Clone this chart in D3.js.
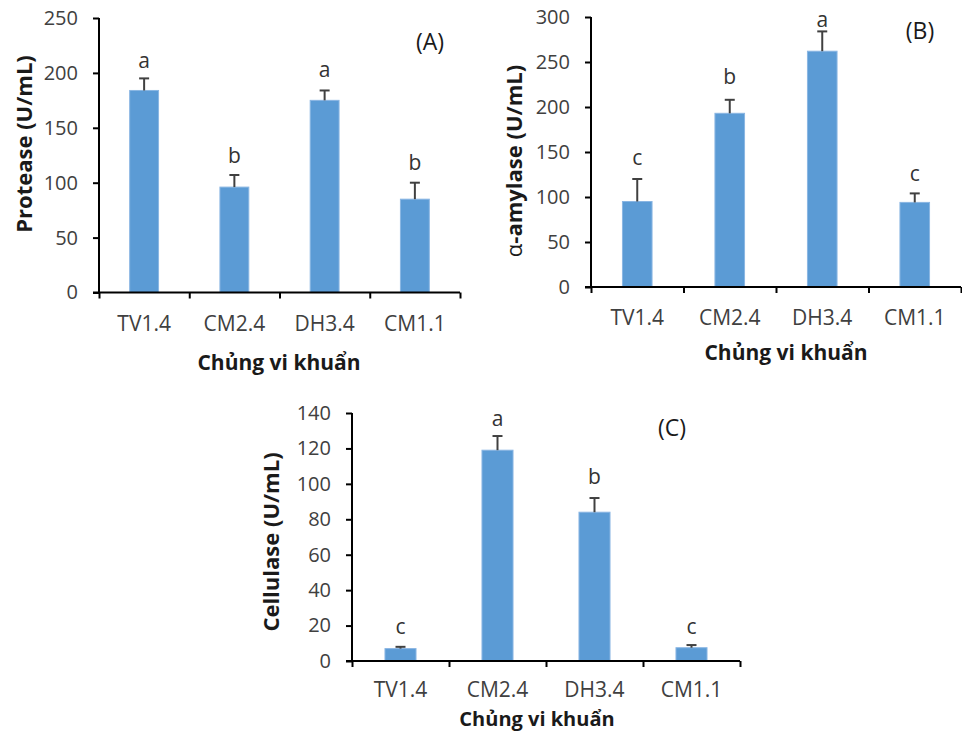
<!DOCTYPE html>
<html><head><meta charset="utf-8">
<script src="https://cdn.jsdelivr.net/npm/d3@7"></script>
<style>
body{margin:0;background:#fff;}
svg{display:block;}
text{font-family:"Open Sans","Noto Sans",sans-serif;}
</style></head>
<body>
<svg id="chart" width="962" height="732"></svg>
<script>
// ---- data ----
const categories = ["TV1.4", "CM2.4", "DH3.4", "CM1.1"];

const proteaseMean = [184, 96, 175, 85];
const proteaseErr = [11, 11, 9, 15];
const proteaseLetters = ["a", "b", "a", "b"];
const proteaseLetterY = [212, 125, 204, 119];
const proteaseTicks = [0, 50, 100, 150, 200, 250];

const amylaseMean = [95, 193, 262, 94];
const amylaseErr = [25, 15, 22, 10];
const amylaseLetters = ["c", "b", "a", "c"];
const amylaseLetterY = [144, 234, 298, 127];
const amylaseTicks = [0, 50, 100, 150, 200, 250, 300];

const cellulaseMean = [7, 119, 84, 7.5];
const cellulaseErr = [1, 8, 8, 1.5];
const cellulaseLetters = ["c", "a", "b", "c"];
const cellulaseLetterY = [19.5, 137, 104.5, 20];
const cellulaseTicks = [0, 20, 40, 60, 80, 100, 120, 140];

const xTitle = "Chủng vi khuẩn";

// ---- layout ----
const panels = [
  {mean: proteaseMean, err: proteaseErr, letters: proteaseLetters, letterY: proteaseLetterY, ticks: proteaseTicks,
   yTitle: [{t: "Protease (U/mL)", bold: true}], tag: "(A)", catOff: 30, xtSize: 21,
   x0: 99, x1: 460, yb: 292.5, yt: 18, tagX: 430, tagY: 41, ytX: 23, ytY: 144, xtX: 279, xtY: 362},
  {mean: amylaseMean, err: amylaseErr, letters: amylaseLetters, letterY: amylaseLetterY, ticks: amylaseTicks,
   yTitle: [{t: "α", bold: false}, {t: "-amylase (U/mL)", bold: true}], tag: "(B)", catOff: 30, xtSize: 21,
   x0: 591, x1: 961, yb: 287, yt: 17, tagX: 920, tagY: 30, ytX: 513, ytY: 161, xtX: 786, xtY: 352},
  {mean: cellulaseMean, err: cellulaseErr, letters: cellulaseLetters, letterY: cellulaseLetterY, ticks: cellulaseTicks,
   yTitle: [{t: "Cellulase (U/mL)", bold: true}], tag: "(C)", catOff: 28, xtSize: 20,
   x0: 352, x1: 740, yb: 661, yt: 413, tagX: 672, tagY: 427, ytX: 270, ytY: 542, xtX: 537, xtY: 718}
];

const svg = d3.select("#chart");
const barColor = "#5b9bd5";
const errColor = "#404040";
const labelColor = "#404040";

panels.forEach(p => {
  const g = svg.append("g");
  const maxV = d3.max(p.ticks);
  const y = d3.scaleLinear().domain([0, maxV]).range([p.yb, p.yt]);
  const x = d3.scaleBand().domain(categories).range([p.x0, p.x1])
    .paddingInner(0.68).paddingOuter(0.34);
  const xEdge = d3.scaleLinear().domain([0, categories.length]).range([p.x0, p.x1]);

  // bars
  g.selectAll("rect.bar").data(categories).join("rect")
    .attr("class", "bar")
    .attr("x", d => x(d))
    .attr("width", x.bandwidth())
    .attr("y", (d, i) => y(p.mean[i]))
    .attr("height", (d, i) => y(0) - y(p.mean[i]))
    .attr("fill", barColor)
    .attr("stroke", "#8ab6e3").attr("stroke-width", 1);

  // error bars (upper only)
  const eg = g.append("g").attr("stroke", errColor).attr("stroke-width", 2).attr("fill", "none");
  categories.forEach((c, i) => {
    const cx = x(c) + x.bandwidth() / 2;
    eg.append("line").attr("x1", cx).attr("x2", cx)
      .attr("y1", y(p.mean[i])).attr("y2", y(p.mean[i] + p.err[i]));
    eg.append("line").attr("x1", cx - 5).attr("x2", cx + 5)
      .attr("y1", y(p.mean[i] + p.err[i])).attr("y2", y(p.mean[i] + p.err[i]));
  });

  // letters
  g.selectAll("text.letter").data(categories).join("text")
    .attr("class", "letter")
    .attr("x", d => x(d) + x.bandwidth() / 2)
    .attr("y", (d, i) => y(p.letterY[i]))
    .attr("text-anchor", "middle").attr("dominant-baseline", "central")
    .attr("font-size", 21).attr("fill", "#333")
    .text((d, i) => p.letters[i]);

  // y axis
  const ya = g.append("g").attr("transform", `translate(${p.x0},0)`)
    .call(d3.axisLeft(y).tickValues(p.ticks).tickSize(6).tickSizeOuter(0).tickPadding(15).tickFormat(d3.format("d")));
  ya.selectAll("path,line").attr("stroke", "#000").attr("stroke-width", 2);
  ya.select("path.domain").attr("d", `M0,${p.yt}V${p.yb}`);
  ya.selectAll("text").attr("font-size", 20).attr("fill", labelColor)
    .style("font-family", '"Open Sans",sans-serif');

  // x axis (ticks at category boundaries)
  const xa = g.append("g").attr("transform", `translate(0,${p.yb})`)
    .call(d3.axisBottom(xEdge).tickValues(d3.range(categories.length + 1)).tickSize(6).tickSizeOuter(0).tickFormat(""));
  xa.selectAll("path,line").attr("stroke", "#000").attr("stroke-width", 2);
  xa.select("path.domain").attr("d", `M${p.x0 - 6},0H${p.x1}`);

  // category labels
  g.selectAll("text.cat").data(categories).join("text")
    .attr("class", "cat")
    .attr("x", d => x(d) + x.bandwidth() / 2)
    .attr("y", p.yb + p.catOff)
    .attr("text-anchor", "middle").attr("dominant-baseline", "central")
    .attr("font-size", 21).attr("fill", labelColor)
    .text(d => d);

  // x title
  g.append("text").attr("x", p.xtX).attr("y", p.xtY)
    .attr("text-anchor", "middle").attr("dominant-baseline", "central")
    .attr("font-size", p.xtSize).attr("font-weight", "bold").attr("fill", "#1a1a1a")
    .text(xTitle);

  // y title
  const yt = g.append("text")
    .attr("transform", `translate(${p.ytX},${p.ytY}) rotate(-90)`)
    .attr("text-anchor", "middle").attr("dominant-baseline", "central")
    .attr("font-size", 22).attr("fill", "#1a1a1a");
  p.yTitle.forEach(s => yt.append("tspan").attr("font-weight", s.bold ? "bold" : "normal").text(s.t));

  // panel tag
  g.append("text").attr("x", p.tagX).attr("y", p.tagY)
    .attr("text-anchor", "middle").attr("dominant-baseline", "central")
    .attr("font-size", 23).attr("fill", "#1a1a1a")
    .text(p.tag);
});
</script>
</body></html>
